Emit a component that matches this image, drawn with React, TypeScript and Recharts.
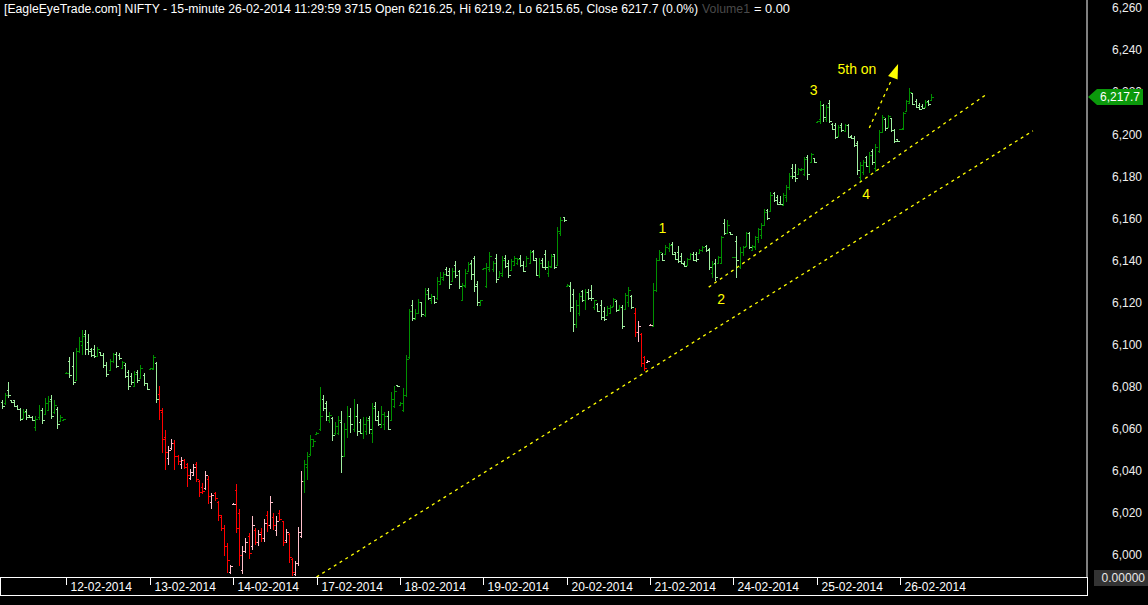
import React from 'react';
import { ComposedChart, Bar, XAxis, YAxis, ReferenceLine, ReferenceDot } from 'recharts';

// [open, high, low, close] per 15-minute bar
type OHLC = [number, number, number, number];

const day_11_02: OHLC[] = [
  [6072.5, 6073.8, 6069.4, 6071], [6072, 6077.2, 6071.4, 6076], [6078.5, 6082.3, 6074.5, 6076],
  [6073.5, 6073.8, 6072.2, 6072.5], [6073.5, 6073.8, 6070.3, 6071], [6071, 6071.4, 6068.7, 6069.2],
  [6069.5, 6069.8, 6063.5, 6064.5], [6065, 6069.4, 6064.6, 6068], [6068.5, 6069.4, 6064.3, 6065.5],
  [6066.5, 6066.7, 6065.1, 6065.5], [6065.5, 6065.9, 6063.5, 6064], [6061, 6065.9, 6058.7, 6064.5],
  [6065.5, 6071.4, 6064.3, 6069], [6069, 6069.8, 6062.4, 6064], [6067, 6074.6, 6066.7, 6072],
  [6069, 6075.7, 6068.2, 6073], [6074, 6076.2, 6064.6, 6066], [6068, 6073.8, 6067.2, 6071.5],
  [6069.5, 6070.3, 6059.9, 6062], [6063.5, 6066.7, 6063, 6065.5], [6064, 6064.6, 6063.5, 6064.5],
];
const day_12_02: OHLC[] = [
  [6086.5, 6087, 6086.3, 6086.7], [6092, 6094.3, 6084.1, 6085.5], [6090, 6096.7, 6080.9, 6082],
  [6083, 6098.5, 6083, 6097], [6097, 6103.8, 6095.9, 6101.5], [6100, 6107, 6095, 6104],
  [6105, 6107, 6095, 6098], [6101, 6104.9, 6095, 6097], [6098, 6098.5, 6094.2, 6095],
  [6098, 6099.7, 6093.5, 6094.5], [6094.5, 6099, 6094.2, 6098], [6096.5, 6096.7, 6094.6, 6095],
  [6095, 6096, 6089, 6090.5], [6090.5, 6091.8, 6084.7, 6086], [6088, 6093.3, 6087.7, 6092],
  [6092, 6096, 6091.1, 6095.5], [6095.5, 6096.3, 6088.8, 6090], [6095, 6096, 6092.8, 6093.5],
  [6089, 6092, 6088.5, 6091.5], [6090.5, 6091, 6084, 6085], [6087, 6088, 6078.5, 6080.5],
  [6085, 6086.5, 6081, 6082], [6080.5, 6087.3, 6079.8, 6086], [6087, 6088, 6081.8, 6083],
  [6084, 6090.4, 6083.4, 6089], [6085.5, 6086.5, 6080.1, 6081.5], [6081.5, 6081.8, 6078.5, 6079],
];
const day_13_02: OHLC[] = [
  [6088.5, 6089, 6088.3, 6088.8], [6088.5, 6095, 6088, 6094], [6091, 6091.8, 6072.3, 6074],
  [6076.5, 6080.4, 6064, 6069], [6068, 6070, 6048.6, 6055], [6056, 6059.5, 6040.5, 6049],
  [6046, 6051.6, 6042.9, 6050], [6051, 6055, 6050, 6053], [6053, 6054.4, 6040.5, 6047],
  [6047, 6047.6, 6042.9, 6044.5], [6043, 6046.5, 6041, 6045], [6045, 6045.7, 6041, 6042],
  [6043, 6043.8, 6032.4, 6038], [6036.5, 6041, 6035.8, 6039.5], [6038, 6043, 6037.5, 6042],
  [6043, 6044, 6034.8, 6036], [6035, 6035.8, 6027.7, 6030], [6032.5, 6034, 6029, 6030.5],
  [6032, 6040, 6031, 6038], [6036, 6037.4, 6024.4, 6028], [6025, 6029.6, 6022, 6028.5],
  [6029.5, 6030, 6025.5, 6027], [6025, 6025.5, 6016, 6019], [6018, 6019, 6011.2, 6013],
  [6013, 6014.4, 5999.3, 6004], [6004, 6005.8, 5991.6, 5997.5], [5992, 5995.4, 5991.1, 5994.5],
];
const day_14_02: OHLC[] = [
  [6024, 6024.5, 6023.8, 6024.3], [6031, 6033.9, 6010.6, 6013], [6020, 6022, 5994.5, 6000],
  [5993, 6004, 5991, 6002], [6002, 6008.2, 6001, 6006], [6009, 6010.6, 5998.2, 6001],
  [6004, 6018.3, 6002.5, 6014], [6012, 6013, 6004.9, 6006], [6006, 6012, 6004, 6010],
  [6011, 6013, 6006, 6008], [6008, 6017.2, 6006.3, 6015], [6019, 6021, 6011, 6014],
  [6014, 6028, 6012.5, 6025], [6018, 6020, 6012, 6014], [6012, 6018.5, 6009, 6016],
  [6020, 6021.5, 6016, 6017], [6016, 6016, 6004, 6006], [6007, 6012.5, 6005.5, 6011],
  [6010, 6010.6, 5996.3, 5999], [5998, 5998.7, 5990, 5992], [5991, 5997, 5990, 5996],
  [5996, 6013.4, 5994.5, 6011], [6009, 6039.7, 6008.2, 6035], [6035, 6045.3, 6029.6, 6043],
  [6042, 6049, 6035.8, 6047], [6048, 6057, 6047, 6055], [6052, 6055, 6051.6, 6054],
];
const day_17_02: OHLC[] = [
  [6057.5, 6058.5, 6057.5, 6058], [6060, 6080, 6058.7, 6066], [6074, 6076, 6068.2, 6070],
  [6072, 6073.3, 6063.6, 6066], [6064, 6067.8, 6062.7, 6066.5], [6065, 6065.8, 6054, 6057],
  [6058, 6063, 6057, 6061.5], [6058, 6066.2, 6057, 6064], [6063, 6068.5, 6039.1, 6047],
  [6047, 6062.8, 6046.7, 6060], [6060, 6070.9, 6055.5, 6066], [6066, 6070, 6058, 6062],
  [6060, 6074.3, 6058.3, 6066], [6066, 6071.9, 6056.7, 6059], [6063, 6064.6, 6057.6, 6058],
  [6058, 6065.8, 6055.1, 6062], [6059, 6065.8, 6057, 6064], [6065, 6066, 6057.5, 6060],
  [6058, 6072.4, 6053.4, 6070], [6071, 6072.8, 6063.6, 6064], [6066, 6068.2, 6061.4, 6062],
  [6061, 6070.6, 6060.3, 6067], [6062, 6068, 6059.5, 6066], [6066, 6068.5, 6059.2, 6060],
  [6064, 6077.4, 6063.6, 6074], [6071, 6080.1, 6069.9, 6078], [6080.8, 6081, 6080, 6080.2],
];
const day_18_02: OHLC[] = [
  [6071.5, 6072.5, 6071.5, 6072], [6069, 6079.3, 6067.8, 6076], [6076, 6095.2, 6075, 6093],
  [6094, 6117, 6093.3, 6116], [6119, 6121, 6111, 6112.5], [6112, 6117, 6111.5, 6115],
  [6115, 6121.8, 6114.6, 6120], [6120, 6120, 6113, 6114.5], [6114, 6126.8, 6113, 6124],
  [6126, 6127, 6121.2, 6122], [6121, 6124, 6119.5, 6123], [6123, 6123, 6119.4, 6120.3],
  [6122, 6132.2, 6121.3, 6130], [6129, 6134.6, 6128.4, 6132], [6131, 6134.5, 6130, 6133.5],
  [6136, 6137.1, 6132.4, 6133], [6135, 6136.5, 6126.5, 6129], [6130, 6136.6, 6129.6, 6135],
  [6138, 6139.5, 6131.7, 6133], [6135, 6135.5, 6126.5, 6128], [6121, 6129.5, 6120.5, 6128.5],
  [6128, 6136, 6127, 6134], [6135, 6139.2, 6134.7, 6138.5], [6139, 6140.3, 6130.8, 6133.5],
  [6141, 6142.2, 6125.2, 6128], [6129, 6130, 6118.5, 6120], [6119, 6121.3, 6118.5, 6121],
];
const day_19_02: OHLC[] = [
  [6136, 6136.5, 6136, 6136.3], [6128, 6139, 6126.9, 6137], [6136, 6144.2, 6134.3, 6142],
  [6136, 6139.5, 6134.3, 6139], [6141, 6143.1, 6129.2, 6131], [6132, 6135.2, 6131.6, 6134],
  [6133, 6142.2, 6132, 6140], [6141, 6142.7, 6136.3, 6137.5], [6139, 6140, 6131.6, 6133],
  [6135.5, 6140.6, 6135.2, 6139.5], [6138, 6141.9, 6137.4, 6141], [6139, 6141.1, 6137.9, 6140.5],
  [6141, 6142.7, 6137.1, 6138], [6138, 6139.5, 6134.3, 6135], [6137.5, 6141.9, 6137.1, 6141],
  [6139, 6145, 6138.5, 6144], [6144.5, 6145, 6139.5, 6140], [6141, 6141.1, 6132.7, 6133],
  [6133, 6141.1, 6131.5, 6139], [6140, 6141.1, 6136.3, 6137], [6143, 6145, 6135.6, 6137],
  [6134, 6139.5, 6132, 6137.5], [6137, 6143.1, 6136.6, 6142], [6143, 6143.2, 6136, 6137],
  [6138, 6155.8, 6137.5, 6154], [6153, 6160.6, 6151.4, 6159], [6160.5, 6160.7, 6158.5, 6159],
];
const day_20_02: OHLC[] = [
  [6128, 6128.6, 6127.8, 6128.4], [6128, 6129.7, 6115.7, 6118], [6124, 6126.4, 6106.2, 6110],
  [6110, 6121, 6108, 6119], [6115, 6124.5, 6113.7, 6123], [6125.5, 6126, 6120, 6121],
  [6121, 6126.4, 6116.5, 6125], [6125, 6126.4, 6121, 6122], [6126, 6128.4, 6120.8, 6122],
  [6118, 6121.2, 6116.5, 6121], [6119.5, 6119.7, 6115.7, 6116], [6119, 6121.2, 6111.8, 6113],
  [6116, 6118, 6111, 6112], [6114, 6118.1, 6113.4, 6117.5], [6115, 6118.9, 6114.6, 6118],
  [6118.5, 6122.1, 6118.1, 6121.5], [6120.5, 6121.2, 6115.7, 6116.5], [6117, 6118.9, 6116, 6118],
  [6118, 6118.9, 6107.4, 6109], [6117, 6124.5, 6116.5, 6123.5], [6120, 6127.4, 6118, 6126],
  [6123, 6123.7, 6116.9, 6118], [6115, 6117.3, 6103.8, 6106], [6106, 6111, 6101.1, 6109],
  [6105, 6105.5, 6089.3, 6091], [6094, 6094.7, 6087.2, 6089], [6091.5, 6092.5, 6091.4, 6092.4],
];
const day_21_02: OHLC[] = [
  [6109.3, 6109.6, 6109.2, 6109.5], [6109, 6129.5, 6108.6, 6126], [6126, 6141.1, 6125.2, 6140],
  [6140, 6145, 6139.5, 6144], [6143, 6143.7, 6139.5, 6140], [6143, 6147.4, 6142.7, 6146.5],
  [6146, 6148.5, 6144.2, 6147.5], [6148, 6148.7, 6142.7, 6143], [6144, 6144.2, 6140, 6140.5],
  [6144, 6147, 6138.7, 6139.5], [6142, 6143.7, 6138.4, 6139], [6138.5, 6139.5, 6136.8, 6137.5],
  [6138, 6141.1, 6137.7, 6140.5], [6140.5, 6143.4, 6140.3, 6143], [6143, 6144.2, 6139.5, 6140],
  [6143, 6144.2, 6139.3, 6140.5], [6143.5, 6145.4, 6143.5, 6145], [6145, 6147, 6144.2, 6146.5],
  [6147, 6147.4, 6144, 6145], [6145.5, 6146, 6135.6, 6137], [6134, 6139.5, 6131.6, 6138.5],
  [6139, 6140.6, 6130, 6132], [6139, 6142.2, 6138.7, 6141.5], [6139, 6151.7, 6138.7, 6151],
  [6158, 6159.6, 6152.2, 6153], [6153, 6159.3, 6152.6, 6157], [6153.3, 6153.4, 6152.2, 6152.5],
];
const day_24_02: OHLC[] = [
  [6141.5, 6141.8, 6141.4, 6141.6], [6149, 6151.4, 6131.6, 6140], [6137, 6146.3, 6136, 6144],
  [6144, 6147, 6141.9, 6146.5], [6147, 6153.7, 6146.6, 6153], [6153, 6153.7, 6145.4, 6146.5],
  [6145, 6147.3, 6144.6, 6147], [6146.5, 6151.4, 6145.1, 6151], [6150, 6155.3, 6148.2, 6155],
  [6152, 6157.7, 6150.1, 6157], [6157, 6164.4, 6156.2, 6163], [6164, 6164.4, 6159, 6160],
  [6163.5, 6172.7, 6163.2, 6171], [6172, 6172.3, 6168, 6168.5], [6170, 6171.2, 6166.4, 6167],
  [6168, 6170.4, 6166.4, 6167], [6166.5, 6172, 6166.4, 6171], [6170, 6175.9, 6168, 6175],
  [6175, 6181.5, 6173.5, 6180], [6184, 6185.9, 6178.6, 6180], [6182, 6185.9, 6177.5, 6179],
  [6181, 6183.8, 6180.7, 6183.5], [6182.8, 6183.8, 6182.3, 6183.5], [6181, 6189.4, 6179.9, 6188],
  [6189, 6190, 6178.3, 6181], [6187, 6191.3, 6186.2, 6190.5], [6188.5, 6188.6, 6186.5, 6187],
];
const day_25_02: OHLC[] = [
  [6206, 6206.3, 6205.8, 6206.1], [6207, 6216, 6205, 6214], [6214, 6214.5, 6206, 6208],
  [6207, 6213.9, 6206, 6213], [6215, 6216.3, 6205.2, 6206.5], [6205, 6205.5, 6202, 6202.5],
  [6204.5, 6205.2, 6197.6, 6198.5], [6199, 6204.4, 6198.6, 6203.5], [6204.5, 6205.2, 6201.2, 6202],
  [6201.5, 6204.9, 6201.1, 6204.5], [6204.5, 6204.9, 6198.1, 6198.5], [6199, 6199.6, 6197.6, 6198],
  [6198, 6199.2, 6194.1, 6195], [6196, 6197, 6180.7, 6183], [6179.5, 6187, 6177.5, 6185.5],
  [6182, 6187.8, 6180.7, 6187], [6189, 6189.7, 6184.3, 6185], [6185, 6191.7, 6181.5, 6190],
  [6192, 6192.9, 6185.4, 6187], [6184, 6195.4, 6181.8, 6194], [6192, 6202, 6191, 6201],
  [6201, 6209.2, 6200.8, 6208], [6207, 6207.6, 6201.7, 6203], [6203.5, 6209.2, 6202.8, 6208.5],
  [6207.5, 6207.9, 6201.2, 6202], [6202, 6202.4, 6196, 6197], [6197.5, 6197.6, 6196.5, 6197],
];
const day_26_02: OHLC[] = [
  [6202.4, 6202.6, 6202.2, 6202.5], [6203, 6210.7, 6202, 6210], [6211, 6216.3, 6210.7, 6216],
  [6215, 6221.8, 6214.7, 6220], [6219.5, 6219.8, 6213.9, 6214.5], [6216, 6216.6, 6212.5, 6213],
  [6214, 6214.7, 6211.5, 6212], [6213.5, 6214.5, 6212, 6212.5], [6213, 6216.3, 6212.4, 6215.5],
  [6216, 6216.3, 6213.5, 6214.5], [6216.25, 6219.2, 6215.65, 6217.7],
];

const days = [
  { date: '11-02-2014', bars: day_11_02 },
  { date: '12-02-2014', bars: day_12_02 },
  { date: '13-02-2014', bars: day_13_02 },
  { date: '14-02-2014', bars: day_14_02 },
  { date: '17-02-2014', bars: day_17_02 },
  { date: '18-02-2014', bars: day_18_02 },
  { date: '19-02-2014', bars: day_19_02 },
  { date: '20-02-2014', bars: day_20_02 },
  { date: '21-02-2014', bars: day_21_02 },
  { date: '24-02-2014', bars: day_24_02 },
  { date: '25-02-2014', bars: day_25_02 },
  { date: '26-02-2014', bars: day_26_02 },
];

// bar index runs drawn in the bearish (red / pink) colour scheme
const bearishRuns: [number, number][] = [[51, 97], [205, 210]];
const totalSlots = 352;
const priceTicks = [6000, 6020, 6040, 6060, 6080, 6100, 6120, 6140, 6160, 6180, 6200, 6220, 6240, 6260];
const lastPrice = 6217.7;
const priceDomain: [number, number] = [5989.5, 6263.8];

// trend lines: [slot, price] endpoints
const trendLines: { from: [number, number]; to: [number, number] }[] = [
  { from: [102, 5989.5], to: [334, 6201.6] },
  { from: [229, 6127.3], to: [319, 6219.0] },
  { from: [281, 6203.0], to: [288, 6225.2] },
];
const arrowTip: [number, number] = [290, 6233.4];
const waveLabels: { text: string; slot: number; price: number }[] = [
  { text: '1', slot: 214, price: 6155.3 },
  { text: '2', slot: 233, price: 6121.8 },
  { text: '3', slot: 263, price: 6221.0 },
  { text: '4', slot: 280, price: 6171.7 },
  { text: '5th on', slot: 277, price: 6231.2 },
];

const titleMain =
  '[EagleEyeTrade.com] NIFTY - 15-minute 26-02-2014 11:29:59 3715 Open 6216.25, Hi 6219.2, Lo 6215.65, Close 6217.7 (0.0%)';
const titleVol = 'Volume1';
const titleVolVal = '= 0.00';
const volumeAxisLabel = '0.00000';

// ---- build rows ----
type Row = { i: number; o?: number; h?: number; l?: number; c?: number; range: [number, number] | null };
const rows: Row[] = [];
const dayTicks: number[] = [];
const tickLabel: Record<number, string> = {};
{
  let k = 0;
  days.forEach((d, di) => {
    if (di > 0) {
      dayTicks.push(k);
      tickLabel[k] = d.date;
    }
    d.bars.forEach(([o, h, l, c]) => {
      rows.push({ i: k, o, h, l, c, range: [l, h] });
      k++;
    });
  });
  for (; k < totalSlots; k++) rows.push({ i: k, range: null });
}

const FONT = '"Liberation Sans", Arial, sans-serif';
const DARK_GREEN = '#009000';
const LIGHT_GREEN = '#a0f0a0';
const RED = '#ff0000';
const PINK = '#ffc0cb';
const YELLOW = '#ffff00';
const TAG_GREEN = '#0b990b';

const OhlcShape = (props: any) => {
  const { x, y, width, height, payload } = props;
  if (!payload || payload.o == null) return null;
  const { o, h, l, c, i } = payload as Required<Row>;
  const cx = Math.round(x + width / 2) + 0.5;
  const span = h - l;
  const py = (v: number) => (span > 0 ? y + ((h - v) / span) * height : y);
  const bear = bearishRuns.some(([a, b]) => i >= a && i <= b);
  const up = c >= o;
  const color = bear ? (up ? PINK : RED) : up ? DARK_GREEN : LIGHT_GREEN;
  const yo = Math.round(py(o)) + 0.5;
  const yc = Math.round(py(c)) + 0.5;
  const top = Math.round(y);
  const bot = Math.max(Math.round(y + height), top + 1);
  return (
    <g stroke={color} strokeWidth={1} shapeRendering="crispEdges">
      <line x1={cx} x2={cx} y1={top} y2={bot} />
      <line x1={cx - 2} x2={cx} y1={yo} y2={yo} />
      <line x1={cx} x2={cx + 2} y1={yc} y2={yc} />
    </g>
  );
};

const DayTick = (props: any) => {
  const { x, payload } = props;
  const label = tickLabel[payload.value];
  const tx = Math.round(x) + 0.5;
  return (
    <g>
      <line x1={tx} x2={tx} y1={578} y2={585} stroke="#fff" strokeWidth={1} shapeRendering="crispEdges" />
      <text x={tx + 4} y={590.5} fill="#fff" fontSize={12} fontFamily={FONT}>
        {label}
      </text>
    </g>
  );
};

const fmt = (v: number, digits: number) =>
  v.toLocaleString('en-US', { minimumFractionDigits: digits, maximumFractionDigits: digits });

const PriceTick = (props: any) => {
  const { y, payload } = props;
  const v = payload.value as number;
  if (v === lastPrice) {
    return (
      <g>
        <polygon points={`1088,${y} 1097,${y - 8} 1143,${y - 8} 1143,${y + 8} 1097,${y + 8}`} fill={TAG_GREEN} />
        <text x={1120} y={y} dy="0.36em" textAnchor="middle" fill="#fff" fontSize={12} fontFamily={FONT}>
          {fmt(v, 1)}
        </text>
      </g>
    );
  }
  return (
    <text x={1142} y={y} dy="0.36em" textAnchor="end" fill="#eeeeee" fontSize={12} fontFamily={FONT}>
      {fmt(v, 0)}
    </text>
  );
};

const ArrowHead = (props: any) => {
  const { cx, cy } = props;
  const tx = cx + 1;
  return <polygon points={`${tx},${cy} ${tx - 10},${cy + 12} ${tx - 0.5},${cy + 15.5}`} fill={YELLOW} />;
};

export default function App() {
  return (
    <div
      style={{
        position: 'fixed',
        left: 0,
        top: 0,
        width: 1148,
        height: 605,
        background: '#000',
        overflow: 'hidden',
      }}
    >
      <ComposedChart
        width={1148}
        height={605}
        data={rows}
        margin={{ top: 0, right: 0, bottom: 10, left: 0 }}
        barCategoryGap={0}
      >
        <XAxis
          dataKey="i"
          type="category"
          ticks={dayTicks}
          interval={0}
          height={18}
          axisLine={false}
          tickLine={false}
          tick={<DayTick />}
        />
        <YAxis
          orientation="right"
          type="number"
          domain={priceDomain}
          allowDataOverflow
          ticks={[...priceTicks, lastPrice]}
          interval={0}
          width={61}
          axisLine={{ stroke: '#fff' }}
          tickLine={false}
          tick={<PriceTick />}
        />
        {trendLines.map((t, idx) => (
          <ReferenceLine
            key={`tl${idx}`}
            segment={[
              { x: t.from[0], y: t.from[1] },
              { x: t.to[0], y: t.to[1] },
            ]}
            stroke={YELLOW}
            strokeWidth={1.3}
            strokeDasharray="3 3.8"
            ifOverflow="visible"
          />
        ))}
        <Bar dataKey="range" shape={<OhlcShape />} isAnimationActive={false} />
        <ReferenceDot x={arrowTip[0]} y={arrowTip[1]} r={2} ifOverflow="visible" shape={<ArrowHead />} />
        {waveLabels.map((w) => (
          <ReferenceDot
            key={w.text}
            x={w.slot}
            y={w.price}
            r={1}
            fill="none"
            stroke="none"
            ifOverflow="visible"
            label={{ value: w.text, position: 'center', fill: YELLOW, fontSize: 14, fontFamily: FONT }}
          />
        ))}
      </ComposedChart>

      <svg
        width={1148}
        height={20}
        style={{ position: 'absolute', left: 0, top: 0, pointerEvents: 'none' }}
      >
        <text x={4} y={13} fill="#fff" fontSize={12} fontFamily={FONT} textLength={694} lengthAdjust="spacingAndGlyphs">
          {titleMain}
        </text>
        <text x={702} y={13} fill="#4a4a4a" fontSize={12} fontFamily={FONT} textLength={48} lengthAdjust="spacingAndGlyphs">
          {titleVol}
        </text>
        <text x={754} y={13} fill="#fff" fontSize={12} fontFamily={FONT} textLength={36} lengthAdjust="spacingAndGlyphs">
          {titleVolVal}
        </text>
      </svg>

      <div
        style={{
          position: 'absolute',
          left: 0,
          top: 577,
          width: 1088,
          height: 19,
          border: '1px solid #fff',
          boxSizing: 'border-box',
          pointerEvents: 'none',
        }}
      />

      <div
        style={{
          position: 'absolute',
          left: 1094,
          top: 570,
          width: 54,
          height: 16,
          background: '#333',
          color: '#e8e8e8',
          fontFamily: FONT,
          fontSize: 12,
          lineHeight: '16px',
          textAlign: 'right',
          paddingRight: 3,
          boxSizing: 'border-box',
        }}
      >
        {volumeAxisLabel}
      </div>
    </div>
  );
}
